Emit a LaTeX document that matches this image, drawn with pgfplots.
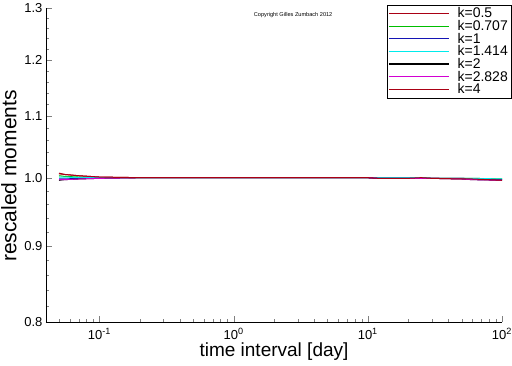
\documentclass[border=0pt]{standalone}
\usepackage{fontspec}
\setmainfont{Liberation Sans}
\usepackage{pgfplots}
\pgfplotsset{compat=1.18}
\definecolor{dred}{RGB}{170,0,20}
\definecolor{lgreen}{RGB}{0,190,0}
\definecolor{dblue}{RGB}{20,20,180}
\definecolor{lcyan}{RGB}{0,235,235}
\definecolor{lmag}{RGB}{210,0,210}
\begin{document}
\begin{tikzpicture}[x=1pt,y=1pt]
\begin{axis}[
  at={(0,0)}, anchor=south west,
  scale only axis, width=456pt, height=314pt,
  xmode=log, ymode=log,
  xmin=0.04, xmax=100, ymin=0.8, ymax=1.3,
  axis lines*=left,
  tick align=inside,
  major tick length=6pt, minor tick length=3.5pt,
  xtick={0.1,1,10,100},
  xticklabels={10\textsuperscript{-1},10\textsuperscript{0},10\textsuperscript{1},10\textsuperscript{2}},
  minor xtick={0.04,0.05,0.06,0.07,0.08,0.09,0.2,0.3,0.4,0.5,0.6,0.7,0.8,0.9,2,3,4,5,6,7,8,9,20,30,40,50,60,70,80,90},
  ytick={0.8,0.9,1.0,1.1,1.2,1.3},
  yticklabels={0.8,0.9,1.0,1.1,1.2,1.3},
  minor ytick={0.82,0.84,0.86,0.88,0.92,0.94,0.96,0.98,1.02,1.04,1.06,1.08,1.12,1.14,1.16,1.18,1.22,1.24,1.26,1.28},
  tick label style={font=\fontsize{13}{13}\selectfont},
  xticklabel style={yshift=-3pt},
  xlabel={time interval [day]},
  ylabel={rescaled moments},
  xlabel style={font=\fontsize{19}{19}\selectfont, yshift=3pt},
  ylabel style={font=\fontsize{21}{21}\selectfont, at={(ticklabel cs:0.465)}, yshift=1pt},
  legend style={at={(1,1)}, anchor=north east, xshift=9pt, yshift=3pt,
    font=\fontsize{14}{14}\selectfont, draw=black, row sep=1pt,
    inner xsep=1pt, inner ysep=2.5pt, cells={anchor=west},
    nodes={inner ysep=0pt}},
  legend image code/.code={\draw[#1, line width=1.3pt] (-1pt,0pt) -- (59pt,0pt);},
  /tikz/every odd column/.append style={column sep=6pt},
  every axis plot/.append style={line width=1pt},
]
\addplot[dred] coordinates {(0.05,1.006)(0.055,1.005)(0.07,1.003)(0.1,1.001)(0.2,1.0)(1,1.0)(10,1.0)(12,0.999)(20,0.999)(25,1.0)(30,0.999)(50,0.999)(60,0.998)(100,0.997)};
\addlegendentry{k=0.5}
\addplot[lgreen] coordinates {(0.05,1.003)(0.055,1.002)(0.07,1.001)(0.1,1.0)(0.2,1.0)(1,1.0)(10,1.0)(12,1.0)(20,1.0)(25,1.0)(30,0.999)(50,0.999)(60,0.999)(100,0.998)};
\addlegendentry{k=0.707}
\addplot[dblue] coordinates {(0.05,0.998)(0.055,0.998)(0.07,0.999)(0.1,1.0)(0.2,1.0)(1,1.0)(10,1.0)(12,0.999)(20,1.0)(25,0.999)(30,0.999)(50,0.999)(60,0.998)(100,0.997)};
\addlegendentry{k=1}
\addplot[lcyan] coordinates {(0.05,1.001)(0.055,1.001)(0.07,1.0)(0.1,1.0)(0.2,1.0)(1,1.0)(10,1.0)(12,1.0)(20,1.0)(25,1.0)(30,0.999)(50,0.999)(60,0.999)(100,0.998)};
\addlegendentry{k=1.414}
\addplot[black] coordinates {(0.05,0.996)(0.055,0.997)(0.07,0.998)(0.1,0.999)(0.2,1.0)(1,1.0)(10,1.0)(12,0.999)(20,0.999)(25,0.999)(30,0.999)(50,0.998)(60,0.997)(100,0.996)};
\addlegendentry{k=2}
\addplot[lmag] coordinates {(0.05,0.997)(0.055,0.997)(0.07,0.998)(0.1,0.999)(0.2,1.0)(1,1.0)(10,1.0)(12,0.999)(20,0.999)(25,0.999)(30,0.999)(50,0.998)(60,0.997)(100,0.996)};
\addlegendentry{k=2.828}
\addplot[dred] coordinates {(0.05,1.007)(0.055,1.005)(0.07,1.003)(0.1,1.001)(0.2,1.0)(1,1.0)(10,1.0)(12,0.999)(20,0.999)(25,1.0)(30,0.999)(50,0.998)(60,0.998)(100,0.996)};
\addlegendentry{k=4}
\node[font=\fontsize{5.6}{6}\selectfont] at (rel axis cs:0.542,0.978) {Copyright Gilles Zumbach 2012};
\end{axis}
\pgfresetboundingbox
\path (-46pt,-44pt) rectangle (466pt,322pt);
\end{tikzpicture}
\end{document}
